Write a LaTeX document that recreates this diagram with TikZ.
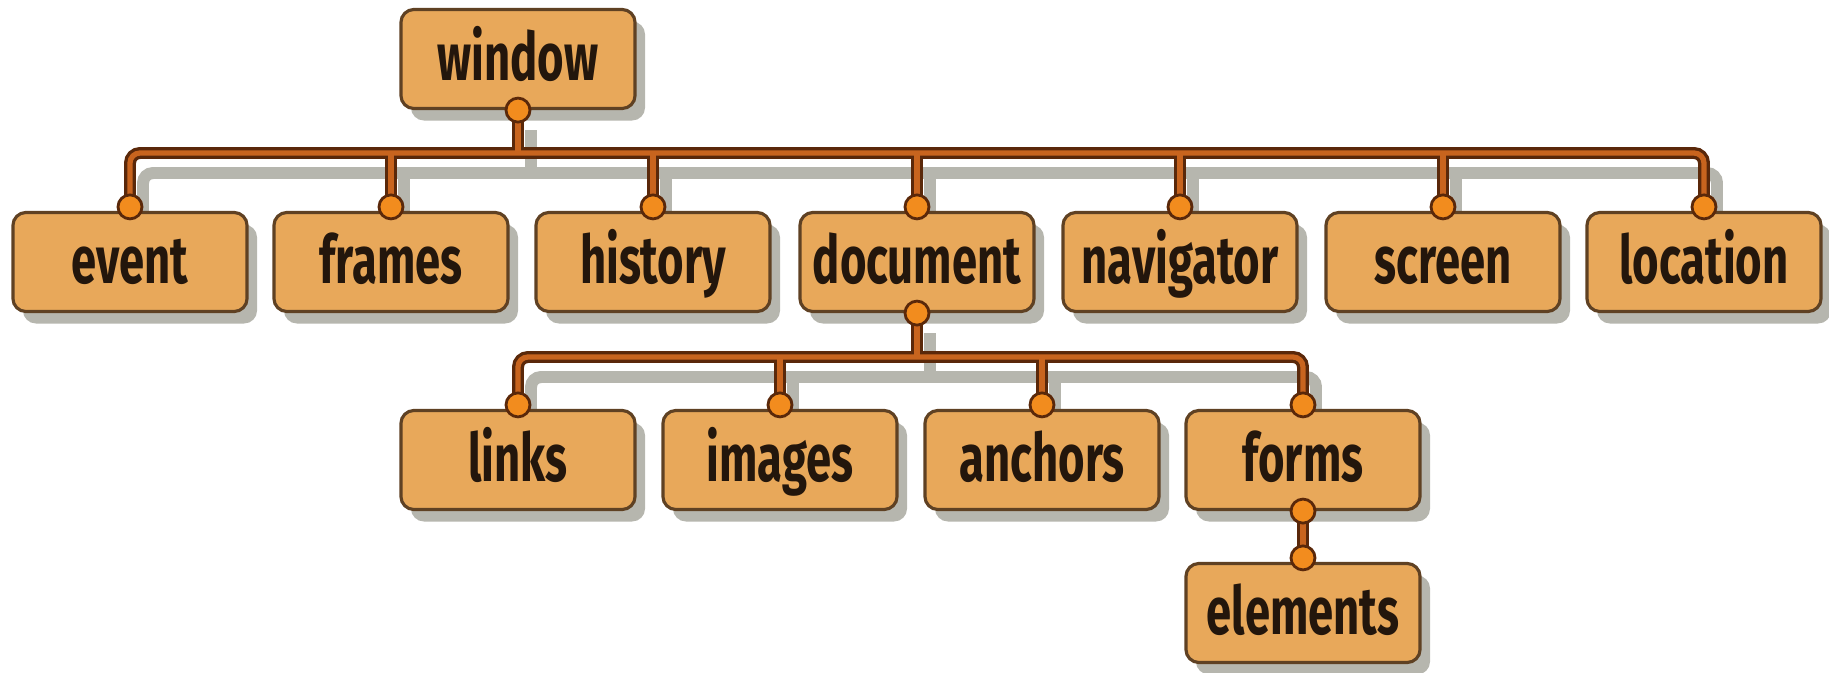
\documentclass[tikz,border=0pt]{standalone}
\usepackage{fontspec}
\usepackage{tikz}
\usetikzlibrary{shadows, calc, backgrounds}
\newfontfamily\boxfont{Fira Sans}[FakeStretch=0.68]
\definecolor{boxfill}{RGB}{232,168,90}
\definecolor{boxline}{RGB}{95,65,35}
\definecolor{dotfill}{RGB}{242,140,30}
\definecolor{wiredark}{RGB}{90,40,10}
\definecolor{wireorange}{RGB}{200,100,30}
\definecolor{shadowgray}{RGB}{182,182,174}
\definecolor{inktext}{RGB}{35,22,12}

\begin{document}
\begin{tikzpicture}[x=0.01cm,y=-0.01cm,
    objbox/.style={rectangle,draw=boxline,line width=0.9pt,fill=boxfill,rounded corners=0.13cm,
        minimum width=2.34cm,minimum height=0.99cm,text=inktext,text height=15pt,text depth=2.6pt,
        font=\boxfont\bfseries\fontsize{19}{22}\selectfont,
        drop shadow={shadow xshift=0.1cm,shadow yshift=-0.12cm,fill=shadowgray,opacity=1}},
    joint/.style={draw=wiredark,line width=0.8pt,fill=dotfill},
    wire/.style={line width=3.4pt,rounded corners=0.1cm}]
    \useasboundingbox (0,0) rectangle (1829,673);

    % top object
    \node[objbox] (window) at (518,59) {window};

    % first level
    \node[objbox] (event) at (130,262) {event};
    \node[objbox] (frames) at (391,262) {frames};
    \node[objbox] (history) at (653,262) {history};
    \node[objbox] (document) at (917,262) {document};
    \node[objbox] (navigator) at (1180,262) {navigator};
    \node[objbox] (screen) at (1443,262) {screen};
    \node[objbox] (location) at (1704,262) {location};

    % document children
    \node[objbox] (links) at (518,460) {links};
    \node[objbox] (images) at (780,460) {images};
    \node[objbox] (anchors) at (1042,460) {anchors};
    \node[objbox] (forms) at (1303,460) {forms};
    \node[objbox] (elements) at (1303,613) {elements};

    \coordinate (busA) at (0,153);
    \coordinate (busB) at (0,357);

    % wires: shadow, outline, core
    \begin{scope}[on background layer]
        \begin{scope}[transform canvas={shift={(0.13cm,-0.2cm)}}]
            \draw[wire,shadowgray] (event.north) -- (event.north |- busA) -- (location.north |- busA) -- (location.north);
            \draw[wire,shadowgray] (links.north) -- (links.north |- busB) -- (forms.north |- busB) -- (forms.north);
            \draw[wire,shadowgray] (window.south) -- (window.south |- busA);
            \draw[wire,shadowgray] (document.south) -- (document.south |- busB);
            \foreach \n in {frames,history,document,navigator,screen}
                \draw[wire,shadowgray] (\n.north) -- (\n.north |- busA);
            \foreach \n in {images,anchors}
                \draw[wire,shadowgray] (\n.north) -- (\n.north |- busB);
        \end{scope}
    \end{scope}
    \foreach \lw/\col in {3.4pt/wiredark,1.5pt/wireorange} {
        \draw[wire,\col,line width=\lw] (event.north) -- (event.north |- busA) -- (location.north |- busA) -- (location.north);
        \draw[wire,\col,line width=\lw] (links.north) -- (links.north |- busB) -- (forms.north |- busB) -- (forms.north);
        \draw[wire,\col,line width=\lw] (window.south) -- (window.south |- busA);
        \draw[wire,\col,line width=\lw] (document.south) -- (document.south |- busB);
        \draw[wire,\col,line width=\lw] (forms.south) -- (elements.north);
        \foreach \n in {frames,history,document,navigator,screen}
            \draw[wire,\col,line width=\lw] (\n.north) -- (\n.north |- busA);
        \foreach \n in {images,anchors}
            \draw[wire,\col,line width=\lw] (\n.north) -- (\n.north |- busB);
    }

    % joints
    \foreach \n in {event,frames,history,document,navigator,screen,location,links,images,anchors,forms,elements}
        \draw[joint] ($(\n.north)+(0,-4)$) circle[radius=12];
    \foreach \n in {window,document,forms}
        \draw[joint] (\n.south) circle[radius=12];
\end{tikzpicture}
\end{document}
